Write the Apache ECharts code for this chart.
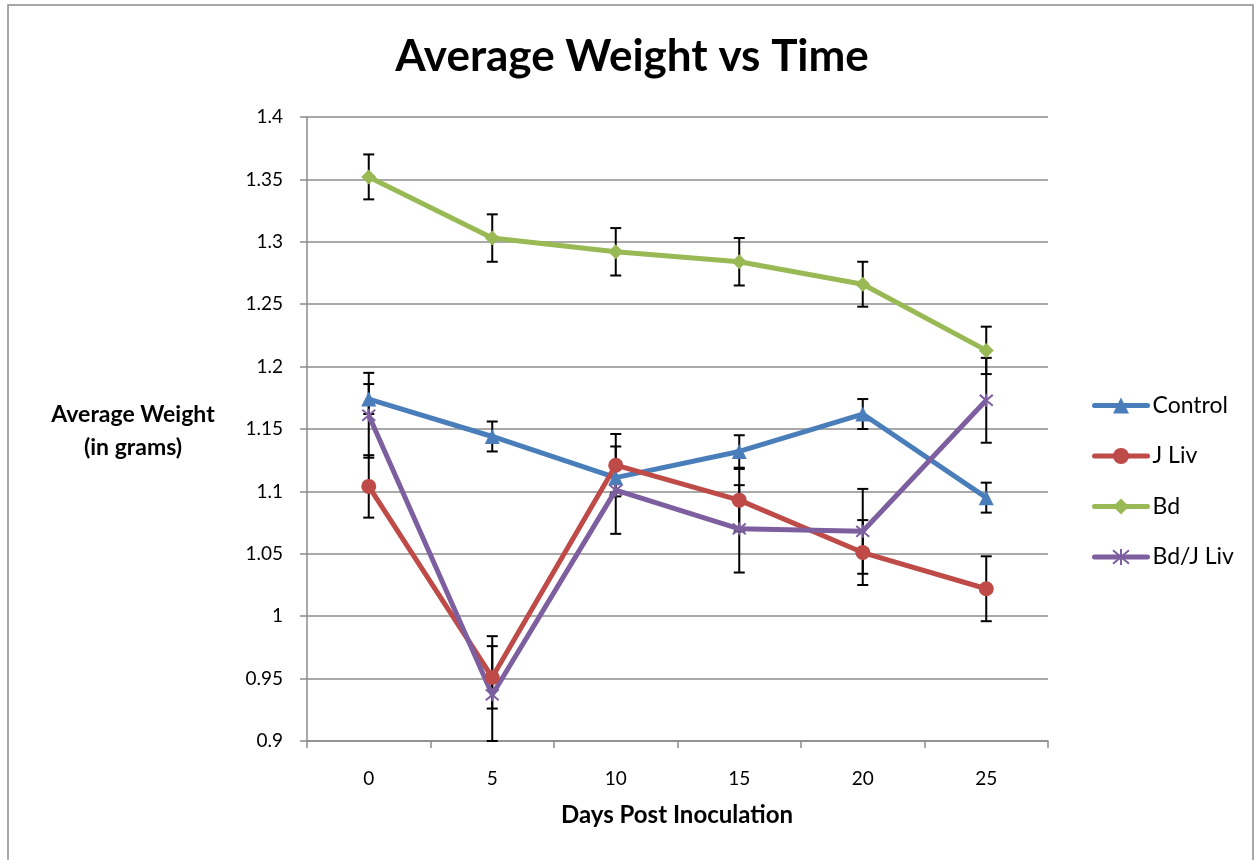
<!DOCTYPE html>
<html>
<head>
<meta charset="utf-8">
<script src="https://cdn.jsdelivr.net/npm/echarts@6/dist/echarts.min.js"></script>
<style>
html, body { margin: 0; padding: 0; background: #fff; }
#chart { width: 1257px; height: 860px; }
</style>
</head>
<body>
<div id="chart"></div>
<script>
const days = ['0', '5', '10', '15', '20', '25'];
const seriesNames = ['Control', 'J Liv', 'Bd', 'Bd/J Liv'];
const control = [1.174, 1.144, 1.111, 1.132, 1.162, 1.095];
const controlErr = [0.012, 0.012, 0.012, 0.013, 0.012, 0.012];
const jLiv = [1.104, 0.951, 1.121, 1.093, 1.051, 1.022];
const jLivErr = [0.025, 0.025, 0.025, 0.025, 0.026, 0.026];
const bd = [1.352, 1.303, 1.292, 1.284, 1.266, 1.213];
const bdErr = [0.018, 0.019, 0.019, 0.019, 0.018, 0.019];
const bdJLiv = [1.161, 0.937, 1.101, 1.070, 1.068, 1.173];
const bdJLivErr = [0.034, 0.047, 0.035, 0.035, 0.034, 0.034];
const yTicks = { min: 0.9, max: 1.4, interval: 0.05 };

const colors = ['#4A7EBB', '#BE4B48', '#98B954', '#7D5FA0'];
const values = [control, jLiv, bd, bdJLiv];
const errs = [controlErr, jLivErr, bdErr, bdJLivErr];
const symbols = [
  'triangle',
  'circle',
  'diamond',
  'path://M0,0 L10,10 M10,0 L0,10 M5,-1 L5,11'
];
const symbolSizes = [15, 15, 15, 13];

const errData = [];
values.forEach((vals, s) => {
  vals.forEach((v, i) => {
    errData.push([i, v - errs[s][i], v + errs[s][i]]);
  });
});

const FONT = 'Lato, "Open Sans", sans-serif';

const chart = echarts.init(document.getElementById('chart'));

const lineSeries = seriesNames.map((name, s) => ({
  name: name,
  type: 'line',
  data: values[s],
  symbol: symbols[s],
  symbolSize: symbolSizes[s],
  z: 3,
  lineStyle: { color: colors[s], width: 5 },
  itemStyle: s === 3
    ? { color: colors[s], borderColor: colors[s], borderWidth: 2 }
    : { color: colors[s], borderWidth: 0 },
  emphasis: { disabled: true }
}));

const option = {
  animation: false,
  graphic: [
    {
      type: 'rect',
      shape: { x: 8, y: 5, width: 1245, height: 900 },
      style: { fill: 'none', stroke: '#8c8c8c', lineWidth: 1.5 },
      silent: true
    },
    {
      type: 'text',
      x: 133, y: 431,
      style: {
        text: 'Average Weight\n(in grams)',
        font: 'bold 23px ' + FONT,
        fill: '#000',
        align: 'center',
        verticalAlign: 'middle',
        lineHeight: 33
      }
    },
    {
      type: 'text',
      x: 677, y: 815,
      style: {
        text: 'Days Post Inoculation',
        font: 'bold 24px ' + FONT,
        fill: '#000',
        align: 'center',
        verticalAlign: 'middle'
      }
    }
  ],
  title: {
    text: 'Average Weight vs Time',
    left: 627,
    top: 30,
    textAlign: 'center',
    textStyle: { fontFamily: FONT, fontWeight: 'bold', fontSize: 44, color: '#000' }
  },
  legend: {
    orient: 'vertical',
    left: 1087,
    top: 389,
    itemWidth: 53,
    itemHeight: 20,
    itemGap: 27.5,
    data: seriesNames,
    lineStyle: { width: 5, cap: 'round' },
    textStyle: { fontFamily: FONT, fontSize: 23, color: '#000' },
    selectedMode: false
  },
  grid: { left: 307, top: 117, width: 741, height: 624, containLabel: false },
  xAxis: {
    type: 'category',
    data: days,
    boundaryGap: true,
    axisLine: { lineStyle: { color: '#8c8c8c', width: 1.5 } },
    axisTick: { show: true, length: 7, lineStyle: { color: '#8c8c8c', width: 1.5 } },
    axisLabel: { fontFamily: FONT, fontSize: 19, color: '#000', margin: 28 },
    splitLine: { show: false }
  },
  yAxis: {
    type: 'value',
    min: yTicks.min,
    max: yTicks.max,
    interval: yTicks.interval,
    axisLine: { show: true, lineStyle: { color: '#8c8c8c', width: 1.5 } },
    axisTick: { show: true, length: 7, lineStyle: { color: '#8c8c8c', width: 1.5 } },
    axisLabel: { fontFamily: FONT, fontSize: 19, color: '#000', margin: 24 },
    splitLine: { show: true, lineStyle: { color: '#8c8c8c', width: 1.5 } }
  },
  series: [
    {
      name: 'errors',
      type: 'custom',
      z: 2,
      silent: true,
      data: errData,
      renderItem: function (params, api) {
        const x = api.value(0);
        const low = Math.max(api.value(1), yTicks.min);
        const high = api.value(2);
        const top = api.coord([x, high]);
        const bot = api.coord([x, low]);
        const hw = 5.5;
        const st = { stroke: '#000', lineWidth: 2 };
        return {
          type: 'group',
          children: [
            { type: 'line', shape: { x1: top[0], y1: top[1], x2: bot[0], y2: bot[1] }, style: st },
            { type: 'line', shape: { x1: top[0] - hw, y1: top[1], x2: top[0] + hw, y2: top[1] }, style: st },
            { type: 'line', shape: { x1: bot[0] - hw, y1: bot[1], x2: bot[0] + hw, y2: bot[1] }, style: st }
          ]
        };
      }
    }
  ].concat(lineSeries)
};

chart.setOption(option);
</script>
</body>
</html>
